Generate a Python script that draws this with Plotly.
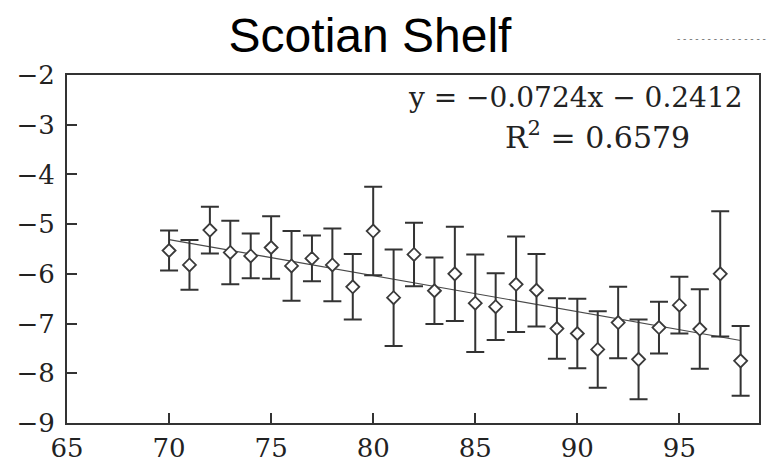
import plotly.graph_objects as go

# ---- data ----
years = [70, 71, 72, 73, 74, 75, 76, 77, 78, 79, 80, 81, 82, 83, 84,
         85, 86, 87, 88, 89, 90, 91, 92, 93, 94, 95, 96, 97, 98]
values = [-5.53, -5.82, -5.12, -5.57, -5.64, -5.47, -5.84, -5.69, -5.82, -6.26,
          -5.14, -6.48, -5.61, -6.34, -6.00, -6.59, -6.66, -6.21, -6.33, -7.10,
          -7.20, -7.52, -6.98, -7.72, -7.08, -6.63, -7.11, -6.00, -7.75]
errors = [0.40, 0.50, 0.47, 0.64, 0.45, 0.63, 0.70, 0.46, 0.73, 0.66,
          0.89, 0.97, 0.64, 0.67, 0.95, 0.98, 0.67, 0.96, 0.73, 0.61,
          0.70, 0.77, 0.72, 0.80, 0.52, 0.57, 0.80, 1.26, 0.70]
trend_x = [70, 98]
trend_y = [-5.31, -7.34]
x_ticks = [65, 70, 75, 80, 85, 90, 95]
y_ticks = [-9, -8, -7, -6, -5, -4, -3, -2]
title_text = "Scotian Shelf"
eq_text = "y = \u22120.0724x \u2212 0.2412"
r2_text = "R<sup>2</sup> = 0.6579"

serif = "DejaVu Serif, Liberation Serif, serif"
ink = "#333333"

fig = go.Figure()
fig.add_trace(go.Scatter(
    x=trend_x, y=trend_y, mode="lines",
    line=dict(color="#4a4a4a", width=1.2), showlegend=False, hoverinfo="skip"))
fig.add_trace(go.Scatter(
    x=years, y=values, mode="markers",
    error_y=dict(type="data", array=errors, color=ink, thickness=2, width=9),
    marker=dict(symbol="diamond", size=10, color="white",
                line=dict(color="#3a3a3a", width=1.8)),
    showlegend=False))

axis_common = dict(
    showgrid=False, zeroline=False, showline=True, linecolor=ink, linewidth=2,
    mirror=True, ticks="inside", ticklen=10, tickwidth=1.5, tickcolor=ink,
    automargin=False,
    tickfont=dict(family=serif, size=26, color="#222222"))

fig.update_layout(
    width=776, height=474,
    margin=dict(l=59, r=25, t=67, b=59, autoexpand=False),
    paper_bgcolor="white", plot_bgcolor="white",
    title=dict(text=title_text, x=362 / 776, xanchor="center", xref="container",
               y=1 - 27 / 474, yanchor="middle", yref="container", automargin=False,
               font=dict(family="Liberation Sans, Arial, sans-serif", size=48, color="black")),
    xaxis=dict(range=[65, 98.9], tickvals=x_ticks, ticklabelstandoff=1, **axis_common),
    yaxis=dict(range=[-9, -2], tickvals=y_ticks, ticklabelstandoff=5, **axis_common),
)

fig.add_annotation(text=eq_text, xref="paper", yref="paper", x=0.98, y=0.936,
                   xanchor="right", yanchor="middle", showarrow=False,
                   font=dict(family=serif, size=28, color="#222222"))
fig.add_annotation(text=r2_text, xref="paper", yref="paper", x=0.766, y=0.826,
                   xanchor="center", yanchor="middle", showarrow=False,
                   font=dict(family=serif, size=30, color="#222222"))
fig.add_annotation(text="- - - - - - - - - - - - - - - -", xref="paper", yref="paper",
                   x=1.022, y=1.106, xanchor="right", yanchor="middle", showarrow=False,
                   font=dict(family="Liberation Sans, Arial", size=10, color="#777777"))

fig.write_html("out.html")
